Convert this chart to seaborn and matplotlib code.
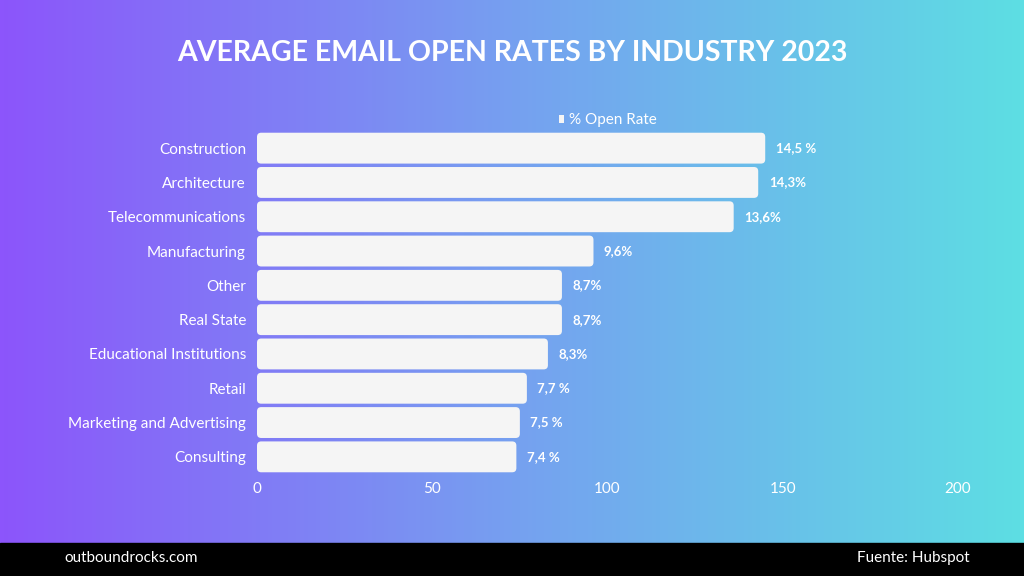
import numpy as np
import pandas as pd
import matplotlib.pyplot as plt
import seaborn as sns
from matplotlib.colors import LinearSegmentedColormap
from matplotlib.patches import FancyBboxPatch, Patch

industries = ["Construction", "Architecture", "Telecommunications", "Manufacturing", "Other",
              "Real State", "Educational Institutions", "Retail", "Marketing and Advertising", "Consulting"]
open_rate = [145, 143, 136, 96, 87, 87, 83, 77, 75, 74]
value_labels = ["14,5 %", "14,3%", "13,6%", "9,6%", "8,7%", "8,7%", "8,3%", "7,7 %", "7,5 %", "7,4 %"]
x_ticks = [0, 50, 100, 150, 200]

df = pd.DataFrame({"industry": industries, "rate": open_rate})

sns.set_style("white")
plt.rcParams["font.family"] = ["Lato", "DejaVu Sans"]

fig = plt.figure(figsize=(10.24, 5.76), dpi=100)

# gradient background + black footer
bg = fig.add_axes([0, 0, 1, 1], zorder=-10)
cmap = LinearSegmentedColormap.from_list("bg", ["#8c55fb", "#76a0f0", "#5ddee3"])
bg.imshow(np.linspace(0, 1, 512)[None, :], aspect="auto", cmap=cmap, extent=[0, 1, 0, 1])
bg.add_patch(plt.Rectangle((0, 0), 1, 33 / 576, color="black"))
bg.set_xlim(0, 1)
bg.set_ylim(0, 1)
bg.axis("off")

ax = fig.add_axes([257 / 1024, 1 - 474 / 576, 701 / 1024, 343 / 576])
ax.patch.set_alpha(0)
sns.barplot(data=df, x="rate", y="industry", color="#f5f5f5", width=0.9, ax=ax, saturation=1)

# rounded bar corners
for p in list(ax.patches):
    x, y, w, h = p.get_x(), p.get_y(), p.get_width(), p.get_height()
    rb = FancyBboxPatch((x, y), w, h, boxstyle="round,pad=0,rounding_size=1.2",
                        mutation_aspect=0.102, facecolor="#f5f5f5", edgecolor="none")
    p.set_visible(False)
    ax.add_patch(rb)

for i, (v, s) in enumerate(zip(open_rate, value_labels)):
    ax.text(v + 3, i, s, va="center", ha="left", color="white", fontsize=9.5, fontweight="bold")

ax.set_xlim(0, 200)
ax.set_xticks(x_ticks)
ax.set_xticklabels([str(t) for t in x_ticks], color="white", fontsize=11)
ax.tick_params(axis="y", colors="white", labelsize=11, length=0, pad=8)
ax.tick_params(axis="x", length=0, pad=6)
ax.set_xlabel("")
ax.set_ylabel("")
sns.despine(ax=ax, left=True, bottom=True)

handle = Patch(facecolor="#f5f5f5", edgecolor="none")
ax.legend([handle], ["% Open Rate"], loc="lower center", bbox_to_anchor=(0.5, 0.988), frameon=False,
          handlelength=0.35, handleheight=0.35, handletextpad=0.3, fontsize=11,
          labelcolor="white", borderaxespad=0.1)

fig.text(0.5, 1 - 53 / 576, "AVERAGE EMAIL OPEN RATES BY INDUSTRY 2023", ha="center", va="center",
         color="white", fontsize=20.5, fontweight="bold")
fig.text(64 / 1024, 1 - 558 / 576, "outboundrocks.com", ha="left", va="center",
         color="white", fontsize=11)
fig.text(970 / 1024, 1 - 558 / 576, "Fuente: Hubspot", ha="right", va="center",
         color="white", fontsize=11)

fig.savefig("out.png", dpi=100)
